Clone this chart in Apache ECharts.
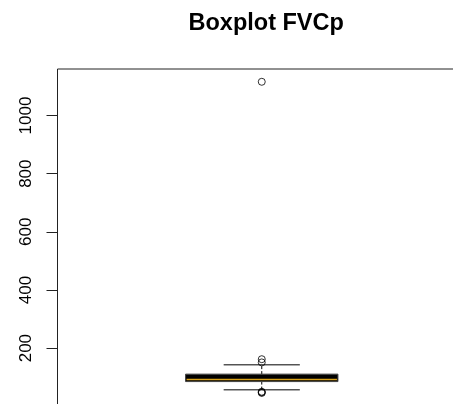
<!DOCTYPE html>
<html>
<head>
<meta charset="utf-8">
<script src="https://cdn.jsdelivr.net/npm/echarts@6/dist/echarts.min.js"></script>
<style>
  html, body { margin: 0; padding: 0; overflow: hidden; background: #fff; }
  #chart { width: 470px; height: 410px; }
</style>
</head>
<body>
<div id="chart"></div>
<script>
// FVCp distribution: one box with its outliers
const categories = ['FVCp'];
// lower whisker, Q1, median, Q3, upper whisker
const boxStats = [56.6, 85, 92, 110.6, 142.6];
const outliers = [1116, 162, 151, 50, 48, 46];
const yTicks = [200, 400, 600, 800, 1000];
const yMin = 0;
const yMax = 1160;

const boxData = [[0].concat(boxStats)];
const outlierData = outliers.map(v => [0, v]);

const chart = echarts.init(document.getElementById('chart'), null, { renderer: 'canvas' });

function renderBox(params, api) {
  const lo = api.coord([0, api.value(1)]);
  const q1 = api.coord([0, api.value(2)]);
  const med = api.coord([0, api.value(3)]);
  const q3 = api.coord([0, api.value(4)]);
  const hi = api.coord([0, api.value(5)]);
  const band = api.size([1, 0])[0];
  const boxW = band * 0.373;
  const capW = boxW / 2;
  const cx = lo[0];
  return {
    type: 'group',
    children: [
      { type: 'line', shape: { x1: cx, y1: q3[1], x2: cx, y2: hi[1] },
        style: { stroke: '#000', lineWidth: 1, lineDash: [3, 2] } },
      { type: 'line', shape: { x1: cx, y1: q1[1], x2: cx, y2: lo[1] },
        style: { stroke: '#000', lineWidth: 1, lineDash: [3, 2] } },
      { type: 'line', shape: { x1: cx - capW / 2, y1: hi[1], x2: cx + capW / 2, y2: hi[1] },
        style: { stroke: '#000', lineWidth: 1 } },
      { type: 'line', shape: { x1: cx - capW / 2, y1: lo[1], x2: cx + capW / 2, y2: lo[1] },
        style: { stroke: '#000', lineWidth: 1 } },
      { type: 'rect', shape: { x: cx - boxW / 2, y: q3[1], width: boxW, height: q1[1] - q3[1] },
        style: { fill: '#000', stroke: '#444', lineWidth: 1 } },
      { type: 'line', shape: { x1: cx - boxW / 2 + 1, y1: med[1], x2: cx + boxW / 2 - 1, y2: med[1] },
        style: { stroke: '#d9a21b', lineWidth: 1.5 } }
    ]
  };
}

chart.setOption({
  animation: false,
  backgroundColor: '#fff',
  title: {
    text: 'Boxplot FVCp',
    left: 261.2,
    top: 7,
    textAlign: 'center',
    textStyle: { fontFamily: 'Liberation Sans, Arial, sans-serif', fontWeight: 'bold', fontSize: 23.5, color: '#000' }
  },
  grid: {
    left: 57.5, right: 4, top: 69, bottom: 3.7,
    show: true, borderColor: '#222', borderWidth: 1, backgroundColor: 'transparent'
  },
  xAxis: {
    type: 'category',
    data: categories,
    boundaryGap: true,
    axisLine: { show: false },
    axisTick: { show: false },
    axisLabel: { show: false },
    splitLine: { show: false }
  },
  yAxis: {
    type: 'value',
    min: yMin,
    max: yMax,
    interval: 200,
    axisLine: { show: false },
    splitLine: { show: false },
    axisTick: { show: true, length: 11, customValues: yTicks, lineStyle: { color: '#222', width: 1 } },
    axisLabel: {
      customValues: yTicks,
      formatter: v => String(v),
      rotate: 90,
      margin: 23,
      fontSize: 17,
      fontFamily: 'Liberation Sans, Arial, sans-serif',
      color: '#000'
    }
  },
  series: [
    {
      type: 'custom',
      renderItem: renderBox,
      encode: { x: 0, y: [1, 2, 3, 4, 5] },
      data: boxData,
      z: 2
    },
    {
      type: 'scatter',
      data: outlierData,
      symbol: 'circle',
      symbolSize: 7,
      itemStyle: { color: 'transparent', borderColor: '#000', borderWidth: 1 },
      z: 3
    }
  ]
});
</script>
</body>
</html>
